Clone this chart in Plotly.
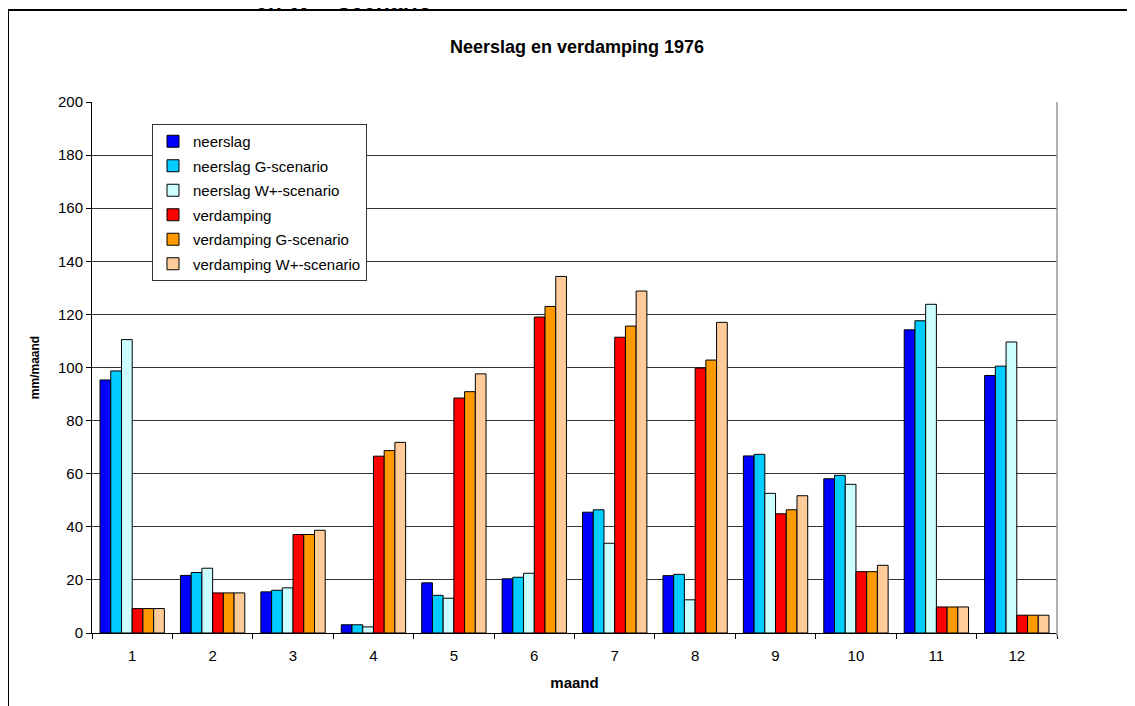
import plotly.graph_objects as go

months = ["1", "2", "3", "4", "5", "6", "7", "8", "9", "10", "11", "12"]

neerslag = [95.3, 21.7, 15.5, 3.1, 18.9, 20.4, 45.5, 21.6, 66.7, 58.1, 114.2, 97.0]
neerslag_g = [98.7, 22.8, 16.1, 3.1, 14.2, 21.0, 46.4, 22.1, 67.3, 59.4, 117.6, 100.5]
neerslag_w = [110.5, 24.4, 17.0, 2.3, 13.1, 22.5, 33.8, 12.5, 52.6, 56.0, 123.8, 109.6]
verdamping = [9.2, 15.1, 37.1, 66.6, 88.5, 119.0, 111.4, 99.8, 44.9, 23.1, 9.8, 6.7]
verdamping_g = [9.2, 15.1, 37.1, 68.7, 90.9, 123.0, 115.6, 102.8, 46.4, 23.1, 9.8, 6.7]
verdamping_w = [9.2, 15.1, 38.7, 71.8, 97.6, 134.3, 128.8, 117.0, 51.7, 25.5, 9.8, 6.7]

series = [
    ("neerslag", neerslag, "#0000FF"),
    ("neerslag G-scenario", neerslag_g, "#00CCFF"),
    ("neerslag W+-scenario", neerslag_w, "#CCFFFF"),
    ("verdamping", verdamping, "#FF0000"),
    ("verdamping G-scenario", verdamping_g, "#FF9900"),
    ("verdamping W+-scenario", verdamping_w, "#FFCC99"),
]

FONT = "Liberation Sans, Arial, sans-serif"

fig = go.Figure()
for i, (name, vals, col) in enumerate(series):
    fig.add_trace(go.Bar(
        x=months, y=vals, name=name, legendgroup=str(i),
        marker=dict(color=col, line=dict(color="black", width=1)),
    ))

# page has an 8px body margin; work in page pixels and convert
OFF = 8
W, H = 1135 - OFF, 706 - OFF
L, R, T, B = 92 - OFF, 78, 102 - OFF, 73
pw, ph = W - L - R, H - T - B


def px(x):
    return (x - OFF - L) / pw


def py(y):
    return (H - B - (y - OFF)) / ph


fig.update_layout(
    width=W, height=H,
    margin=dict(l=L, r=R, t=T, b=B),
    paper_bgcolor="white", plot_bgcolor="white",
    font=dict(family=FONT, size=15, color="black"),
    barmode="group", bargap=0.2, bargroupgap=0,
    showlegend=True,
    legend=dict(
        x=px(152), y=py(124), xanchor="left", yanchor="top",
        bgcolor="white", bordercolor="#333", borderwidth=1,
        font=dict(family=FONT, size=15, color="black"),
        tracegroupgap=2,
    ),
    xaxis=dict(
        type="category", showgrid=False, showline=True, linecolor="black", linewidth=1,
        ticks="outside", tickson="boundaries", ticklen=5, tickcolor="black",
        tickfont=dict(size=15), ticklabelstandoff=9,
        title=dict(text="<b>maand</b>", font=dict(size=15), standoff=14),
    ),
    yaxis=dict(
        range=[0, 200], dtick=20, showgrid=True, gridcolor="#333", gridwidth=1,
        showline=True, linecolor="black", linewidth=1,
        ticks="outside", ticklen=5, tickcolor="black",
        tickfont=dict(size=15),
        title=dict(text="<b>mm/maand</b>", font=dict(size=12), standoff=15),
        zeroline=False,
    ),
    shapes=[
        # outer chart frame (left, top)
        dict(type="line", xref="paper", yref="paper", x0=px(8), x1=px(8), y0=py(10), y1=py(720),
             line=dict(color="black", width=2)),
        dict(type="line", xref="paper", yref="paper", x0=px(7), x1=px(1133), y0=py(10), y1=py(10),
             line=dict(color="black", width=2)),
        # right plot border
        dict(type="line", xref="paper", yref="paper", x0=1, x1=1, y0=py(637), y1=1,
             line=dict(color="#999", width=1.5)),
    ],
    annotations=[
        dict(text="<b>Neerslag en verdamping 1976</b>", xref="paper", yref="paper",
             x=px(577), y=py(47), xanchor="center", yanchor="middle", showarrow=False,
             font=dict(size=18)),
        dict(text="<b>en W+ -scenario</b>", xref="paper", yref="paper",
             x=px(343), y=py(16), xanchor="center", yanchor="bottom", showarrow=False,
             font=dict(size=23)),
    ],
)

fig.write_html("out.html")
